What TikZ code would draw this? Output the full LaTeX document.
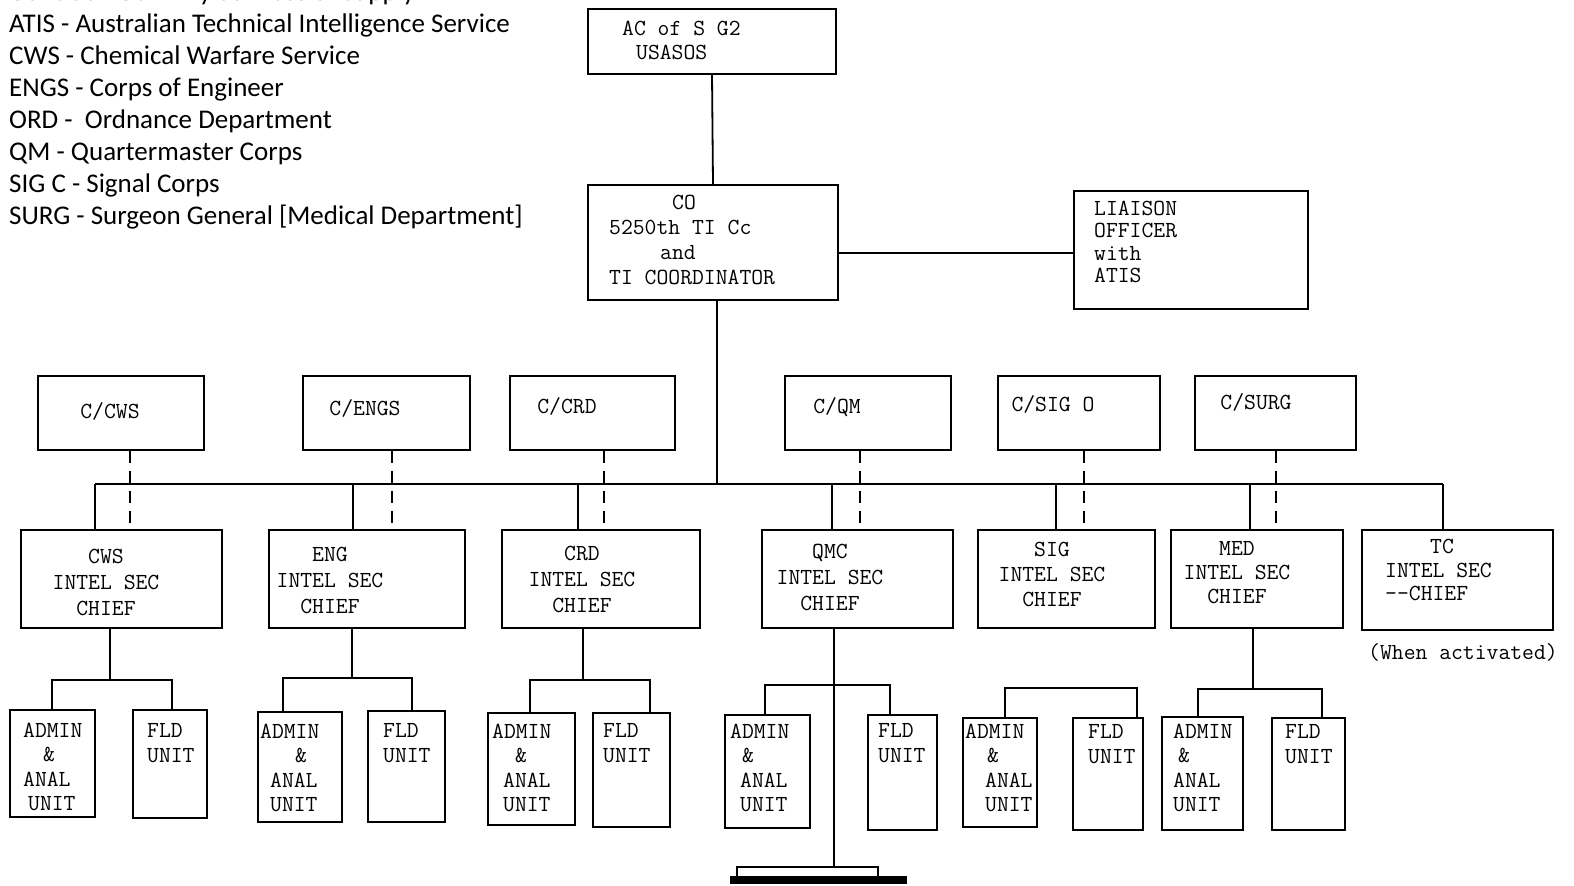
\documentclass[tikz,border=0pt]{standalone}
\usepackage{fontspec}
\setmainfont{Carlito}
\usetikzlibrary{fit}
\begin{document}
\begin{tikzpicture}[x=1pt,y=-1pt,
  box/.style={draw, line width=1.8pt, inner sep=0pt, rectangle},
  conn/.style={line width=1.8pt},
  dashln/.style={line width=2pt, dash pattern=on 12pt off 8pt},
  txt/.style={font=\ttfamily\fontsize{23}{25}\selectfont, inner sep=0pt},
  lsk/.style={font=\ttfamily\fontsize{23}{#1}\selectfont},
  legend/.style={font=\fontsize{27}{30}\selectfont, inner sep=0pt, anchor=base west}]
\useasboundingbox[fill=white] (0,0) rectangle (1574,886);

% legend
\foreach \t [count=\i] in {{USASOS - US Army Services of Supply},
  {ATIS - Australian Technical Intelligence Service},
  {CWS - Chemical Warfare Service},
  {ENGS - Corps of Engineer},
  {ORD -\ \ Ordnance Department},
  {QM - Quartermaster Corps},
  {SIG C - Signal Corps},
  {SURG - Surgeon General [Medical Department]}}
  \node[legend] (leg\i) at (9,{0.5+32*(\i-1)}) {\t};

% boxes
\node[box, fit={(588,9) (836,74)}] (top) {};
\node[box, fit={(588,185) (838,300)}] (co) {};
\node[box, fit={(1074,191) (1308,309)}] (liaison) {};

\node[box, fit={(38,376) (204,450)}] (ccws) {};
\node[box, fit={(303,376) (470,450)}] (cengs) {};
\node[box, fit={(510,376) (675,450)}] (cord) {};
\node[box, fit={(785,376) (951,450)}] (cqm) {};
\node[box, fit={(998,376) (1160,450)}] (csig) {};
\node[box, fit={(1195,376) (1356,450)}] (csurg) {};

\node[box, fit={(21,530) (222,628)}] (cwsI) {};
\node[box, fit={(269,530) (465,628)}] (engI) {};
\node[box, fit={(502,530) (700,628)}] (ordI) {};
\node[box, fit={(762,530) (953,628)}] (qmcI) {};
\node[box, fit={(978,530) (1155,628)}] (sigI) {};
\node[box, fit={(1171,530) (1343,628)}] (medI) {};
\node[box, fit={(1362,530) (1553,630)}] (tcI) {};

\node[box, fit={(10,710) (95,817)}] (ad1) {};
\node[box, fit={(133,710) (207,818)}] (fl1) {};
\node[box, fit={(258,712) (342,822)}] (ad2) {};
\node[box, fit={(368,711) (445,822)}] (fl2) {};
\node[box, fit={(488,713) (575,825)}] (ad3) {};
\node[box, fit={(593,713) (670,827)}] (fl3) {};
\node[box, fit={(725,715) (810,828)}] (ad4) {};
\node[box, fit={(868,715) (937,830)}] (fl4) {};
\node[box, fit={(963,718) (1037,827)}] (ad5) {};
\node[box, fit={(1073,718) (1143,830)}] (fl5) {};
\node[box, fit={(1162,717) (1243,830)}] (ad6) {};
\node[box, fit={(1272,718) (1345,830)}] (fl6) {};

\node[draw, line width=1.2pt, inner sep=0pt, fit={(737,867) (878,879)}] (cont) {};
\node[fill=black, inner sep=0pt, fit={(730,876) (907,884)}] (contbar) {};

% texts
\node[txt, lsk=24, align=left, anchor=west] (topT) at (622,40) {AC of S G2\\\hspace*{14pt}USASOS};
\node[txt, lsk=25.3, align=left, anchor=west] (coT) at (609,240) {\hspace*{63pt}CO\\5250th TI Cc\\\hspace*{51pt}and\\TI COORDINATOR};
\node[txt, lsk=22.3, align=left, anchor=west] (liT) at (1094,242) {LIAISON\\OFFICER\\with\\ATIS};

\node[txt, anchor=base] (ccwsT) at (110,418) {C/CWS};
\node[txt, anchor=base] (cengsT) at (365,415) {C/ENGS};
\node[txt, anchor=base] (cordT) at (567,413) {C/CRD};
\node[txt, anchor=base] (cqmT) at (837,413) {C/QM};
\node[txt, anchor=base] (csigT) at (1053,411) {C/SIG O};
\node[txt, anchor=base] (csurgT) at (1256,409) {C/SURG};

\node[txt, lsk=26, align=center] (cwsT) at (106,582) {CWS\\INTEL SEC\\CHIEF};
\node[txt, lsk=26, align=center] (engT) at (330,580) {ENG\\INTEL SEC\\CHIEF};
\node[txt, lsk=26, align=center] (ordT) at (582,579) {CRD\\INTEL SEC\\CHIEF};
\node[txt, lsk=26, align=center] (qmcT) at (830,577) {QMC\\INTEL SEC\\CHIEF};
\node[txt, lsk=25, align=center] (sigT) at (1052,574) {SIG\\INTEL SEC\\CHIEF};
\node[txt, lsk=24, align=center] (medT) at (1237,573) {MED\\INTEL SEC\\CHIEF};
\node[txt, lsk=23.5, align=left, anchor=west] (tcT) at (1385,570) {\hspace*{45pt}TC\\INTEL SEC\\-{}-CHIEF};
\node[txt, anchor=base west] (whenT) at (1368,659) {(When activated)};

\node[txt, lsk=24.5, align=left, anchor=west] (ad1T) at (23,767) {ADMIN\\\hspace*{20pt}\&\\ANAL\\\hspace*{5pt}UNIT};
\node[txt, lsk=24.5, align=left, anchor=west] (ad2T) at (260,768) {ADMIN\\\hspace*{35pt}\&\\\hspace*{10pt}ANAL\\\hspace*{10pt}UNIT};
\node[txt, lsk=24.5, align=left, anchor=west] (ad3T) at (492,768) {ADMIN\\\hspace*{23pt}\&\\\hspace*{11pt}ANAL\\\hspace*{11pt}UNIT};
\node[txt, lsk=24.5, align=left, anchor=west] (ad4T) at (730,768) {ADMIN\\\hspace*{12pt}\&\\\hspace*{10pt}ANAL\\\hspace*{10pt}UNIT};
\node[txt, lsk=24.5, align=left, anchor=west] (ad5T) at (965,768) {ADMIN\\\hspace*{22pt}\&\\\hspace*{20pt}ANAL\\\hspace*{20pt}UNIT};
\node[txt, lsk=24.5, align=left, anchor=west] (ad6T) at (1173,768) {ADMIN\\\hspace*{5pt}\&\\ANAL\\UNIT};

\node[txt, lsk=25, align=left, anchor=west] (fl1T) at (147,743) {FLD\\UNIT};
\node[txt, lsk=25, align=left, anchor=west] (fl2T) at (383,743) {FLD\\UNIT};
\node[txt, lsk=25, align=left, anchor=west] (fl3T) at (603,743) {FLD\\UNIT};
\node[txt, lsk=25, align=left, anchor=west] (fl4T) at (878,743) {FLD\\UNIT};
\node[txt, lsk=25, align=left, anchor=west] (fl5T) at (1088,744) {FLD\\UNIT};
\node[txt, lsk=25, align=left, anchor=west] (fl6T) at (1285,744) {FLD\\UNIT};

% connectors
\draw[conn] (top.south) -- (co.north);
\coordinate (lk) at (950,253);
\draw[conn] (co.east |- lk) -- (liaison.west |- lk);

\coordinate (busL) at (95,484);
\coordinate (busR) at (1443,484);
\draw[conn] (busL) -- (busR);
\coordinate (cov) at (717,484);
\draw[conn] (cov |- co.south) -- (cov);

\foreach \n/\x in {cwsI/95, engI/353, ordI/578, qmcI/832, sigI/1056, medI/1250, tcI/1443} {
  \coordinate (b\n) at (\x,484);
  \draw[conn] (b\n) -- (b\n |- \n.north);
}

\foreach \a/\b/\s in {ccws/cwsI/9, cengs/engI/5.5, cord/ordI/11.5, cqm/qmcI/-8, csig/sigI/5, csurg/medI/0} {
  \coordinate (t\a) at ([xshift=\s pt]\a.south);
  \draw[dashln] (t\a) -- (t\a |- \b.north);
}

% unit brackets
\foreach \i/\m/\v/\y/\l/\r in {1/cwsI/110/680/52/172, 2/engI/352/678/283/412, 3/ordI/583/680/530/650, 6/medI/1253/689/1198/1322} {
  \coordinate (v\i) at (\v,\y);
  \coordinate (hL\i) at (\l,\y);
  \coordinate (hR\i) at (\r,\y);
  \draw[conn] (v\i |- \m.south) -- (v\i);
  \draw[conn] (ad\i.north -| hL\i) -- (hL\i) -- (hR\i) -- (fl\i.north -| hR\i);
}
% QMC: long line to continuation
\coordinate (v4) at (834,685);
\coordinate (hL4) at (765,685);
\coordinate (hR4) at (890,685);
\draw[conn] (v4 |- qmcI.south) -- (v4 |- cont.north);
\draw[conn] (ad4.north -| hL4) -- (hL4) -- (hR4) -- (fl4.north -| hR4);
% SIG: bracket without riser
\coordinate (hL5) at (1005,688);
\coordinate (hR5) at (1137,688);
\draw[conn] (ad5.north -| hL5) -- (hL5) -- (hR5) -- (fl5.north -| hR5);
\end{tikzpicture}
\end{document}
